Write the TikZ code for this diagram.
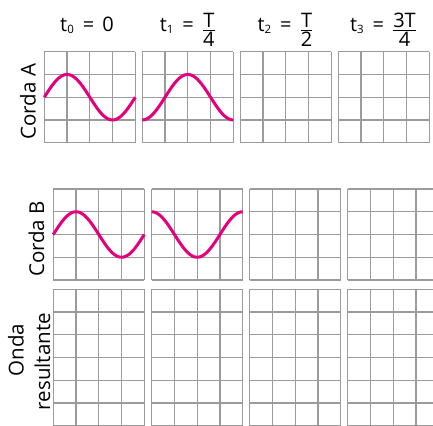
\documentclass[tikz,border=0pt]{standalone}
\usepackage{fontspec}
\usepackage{amsmath}
\setmainfont{Open Sans}
\definecolor{gridgray}{RGB}{155,155,155}
\definecolor{wavemag}{RGB}{228,0,125}
\newcommand\drawgrid[3]{%
  \foreach \i in {0,...,4} \draw[gridline] ({#1+22.75*\i},#2) -- ({#1+22.75*\i},{#2+22.75*#3});
  \foreach \j in {0,...,#3} \draw[gridline] (#1,{#2+22.75*\j}) -- ({#1+91},{#2+22.75*\j});
}
\newcommand\fr[2]{\raisebox{-4pt}{$\genfrac{}{}{1.3pt}{1}{\mbox{#1}}{\mbox{#2}}$}}
\newcommand\sub[1]{\raisebox{-0.15ex}{\fontsize{11.5}{11.5}\selectfont #1}}
\newcommand\eqs{\hspace{0.45em}=\hspace{0.4em}}
\begin{document}
\begin{tikzpicture}[x=1pt,y=-1pt,
  gridline/.style={draw=gridgray, line width=1.2pt},
  wave/.style={draw=wavemag, line width=3pt},
  title/.style={anchor=base, inner sep=0pt, font=\fontsize{20}{22}\selectfont},
  side/.style={anchor=base, rotate=90, inner sep=0pt, font=\fontsize{20.5}{22}\selectfont}]
\useasboundingbox (0,0) rectangle (433,425);
\clip (0,0) rectangle (433,425);
% row A
\drawgrid{44.3}{51.7}{4}
\drawgrid{142.3}{51.7}{4}
\drawgrid{240.3}{51.7}{4}
\drawgrid{338.3}{51.7}{4}
% row B
\drawgrid{53.3}{189}{4}
\drawgrid{151.7}{189}{4}
\drawgrid{249.7}{189}{4}
\drawgrid{347.7}{189}{4}
% row C
\drawgrid{53.3}{289.3}{6}
\drawgrid{151.7}{289.3}{6}
\drawgrid{249.7}{289.3}{6}
\drawgrid{347.7}{289.3}{6}
% waves
\draw[wave] plot[domain=0:4, samples=80, smooth] ({44.3+22.75*\x},{97.2-22.75*sin(90*\x)});
\draw[wave] plot[domain=0:4, samples=80, smooth] ({142.3+22.75*\x},{97.2+22.75*cos(90*\x)});
\draw[wave] plot[domain=0:4, samples=80, smooth] ({53.3+22.75*\x},{234.5-22.75*sin(90*\x)});
\draw[wave] plot[domain=0:4, samples=80, smooth] ({151.7+22.75*\x},{234.5-22.75*cos(90*\x)});
% titles
\node[title] (t0) at (87,31.7) {t\sub{0}\eqs 0};
\node[title] (t1) at (187.8,31.7) {t\sub{1}\eqs\fr{T}{4}};
\node[title] (t2) at (285.5,31.7) {t\sub{2}\eqs\fr{T}{2}};
\node[title] (t3) at (383.5,31.7) {t\sub{3}\eqs\fr{3T}{4}};
% side labels
\node[side] (ca) at (35.5,101.7) {Corda A};
\node[side] (cb) at (44,239) {Corda B};
\node[side] (on) at (23.5,350) {Onda};
\node[side] (re) at (50,361.7) {resultante};
\end{tikzpicture}
\end{document}
